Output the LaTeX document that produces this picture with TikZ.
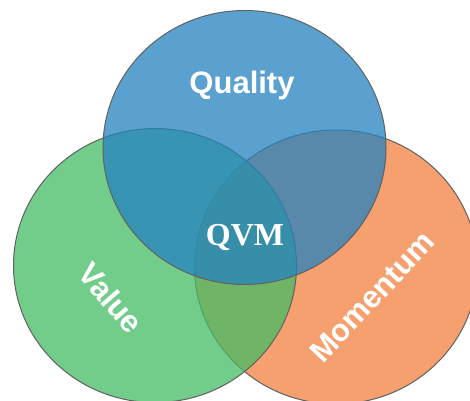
\documentclass[tikz,border=0pt]{standalone}
\usepackage{fontspec}
\setmainfont{Liberation Serif}
\newfontfamily\vennfont{Liberation Sans}
\definecolor{qualityblue}{HTML}{2482C0}
\definecolor{valuegreen}{HTML}{43BB63}
\definecolor{momentumorange}{HTML}{F2803E}
\begin{document}
\begin{tikzpicture}[x=1pt,y=-1pt,
    venn/.style={fill opacity=0.75,draw=black!62,line width=1pt},
    setlabel/.style={text=white,font=\vennfont\bfseries\fontsize{31}{36}\selectfont},
    midlabel/.style={text=white,font=\bfseries\fontsize{32}{36}\selectfont}]
    \useasboundingbox (0,0) rectangle (470,400);
    \clip (0,0) rectangle (470,400);

    \filldraw[venn,fill=momentumorange] (336,267) ellipse [x radius=141.5,y radius=137];
    \filldraw[venn,fill=valuegreen] (155,265.5) ellipse [x radius=141.5,y radius=137];
    \filldraw[venn,fill=qualityblue] (244.5,147.5) ellipse [x radius=141.5,y radius=137];

    \node[setlabel] (quality) at (242,85) {Quality};
    \node[setlabel,rotate=-49] (value) at (111,298) {Value};
    \node[setlabel,rotate=47] (momentum) at (372,297) {Momentum};
    \node[midlabel] (qvm) at (245,237) {QVM};
  \end{tikzpicture}
\end{document}
